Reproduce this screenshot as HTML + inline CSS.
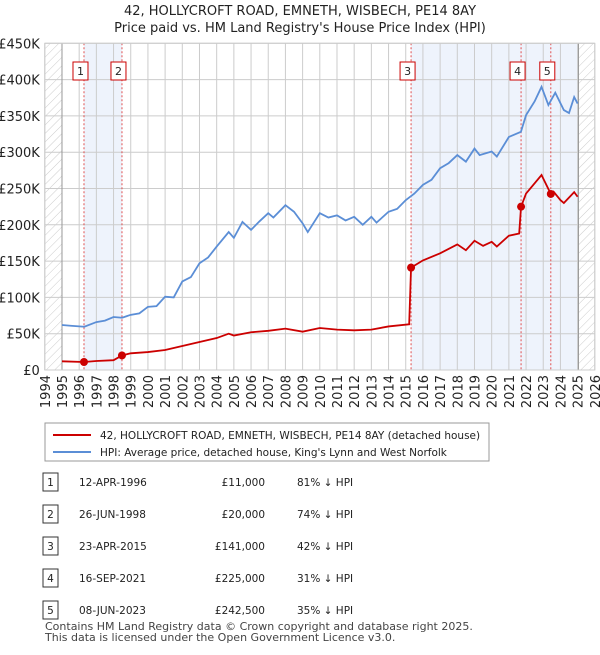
<!DOCTYPE html>
<html><head><meta charset="utf-8"><style>
body{margin:0;background:#fff;font-family:"Liberation Sans","DejaVu Sans",sans-serif;}
svg text{font-family:"DejaVu Sans","Liberation Sans",sans-serif;}
</style></head><body>
<svg id="c" width="600" height="650" xmlns="http://www.w3.org/2000/svg">
<defs><pattern id="hatch" width="6" height="6" patternUnits="userSpaceOnUse" patternTransform="rotate(45)"><line x1="0" y1="0" x2="0" y2="6" stroke="#ccc" stroke-width="1"/></pattern></defs>
<text x="300" y="15" text-anchor="middle" font-size="13" fill="#222">42, HOLLYCROFT ROAD, EMNETH, WISBECH, PE14 8AY</text>
<text x="300" y="32" text-anchor="middle" font-size="13" fill="#222">Price paid vs. HM Land Registry's House Price Index (HPI)</text>
<g id="plot"></g>
<rect x="45" y="423" width="444" height="38" fill="#fff" stroke="#999"/>
<line x1="53" y1="435" x2="91" y2="435" stroke="#cc0000" stroke-width="2"/>
<text x="100" y="439" font-size="10.5" fill="#222">42, HOLLYCROFT ROAD, EMNETH, WISBECH, PE14 8AY (detached house)</text>
<line x1="53" y1="452" x2="91" y2="452" stroke="#5b8ed6" stroke-width="2"/>
<text x="100" y="456" font-size="10.5" fill="#222">HPI: Average price, detached house, King's Lynn and West Norfolk</text>
<g id="table" font-size="10.5" fill="#222"></g>
<text x="45" y="630" font-size="11" fill="#444">Contains HM Land Registry data © Crown copyright and database right 2025.</text>
<text x="45" y="641" font-size="11" fill="#444">This data is licensed under the Open Government Licence v3.0.</text>
</svg>
<script>
const hpiYears=[1995,1995.5,1996.3,1997,1997.5,1998,1998.5,1999,1999.5,2000,2000.5,2001,2001.5,2002,2002.5,2003,2003.5,2004,2004.7,2005,2005.5,2006,2006.5,2007,2007.3,2008,2008.5,2009,2009.3,2010,2010.5,2011,2011.5,2012,2012.5,2013,2013.3,2014,2014.5,2015,2015.5,2016,2016.5,2017,2017.5,2018,2018.5,2019,2019.3,2020,2020.3,2021,2021.7,2022,2022.5,2022.9,2023.3,2023.7,2024.2,2024.5,2024.8,2025.0];
const hpiValues=[62000,61000,59600,66000,68000,73000,72000,76000,78000,87000,88000,101000,100000,122000,128000,147000,155000,170000,190000,182000,204000,193000,205000,216000,210000,227000,218000,202000,190000,216000,210000,213000,206000,211000,200000,211000,203000,218000,222000,234000,243000,255000,262000,278000,285000,296000,287000,305000,296000,301000,294000,321000,328000,351000,370000,390000,365000,382000,358000,354000,376000,367000];
const ppYears=[1995,1996.28,1997,1998,1998.49,1999,2000,2001,2002,2003,2004,2004.7,2005,2006,2007,2008,2009,2010,2011,2012,2013,2014,2015.2,2015.31,2016,2017,2018,2018.5,2019,2019.5,2020,2020.3,2021,2021.6,2021.71,2022,2022.9,2023.44,2023.6,2024,2024.2,2024.8,2025.0];
const ppValues=[12000,11000,12400,13500,20000,23000,24700,27500,33000,38600,44000,50000,47500,52000,54000,57000,52800,57800,55600,54700,55600,60000,63000,141000,151000,160700,173000,165000,178000,171000,176600,170000,185000,188000,225000,243000,268600,242500,245600,234000,230000,245000,238600];
const saleIds=["1","2","3","4","5"];
const saleYears=[1996.28,1998.49,2015.31,2021.71,2023.44];
const saleValues=[11000,20000,141000,225000,242500];
const saleDates=["12-APR-1996","26-JUN-1998","23-APR-2015","16-SEP-2021","08-JUN-2023"];
const saleLabels=["£11,000","£20,000","£141,000","£225,000","£242,500"];
const saleDiffs=["81% ↓ HPI","74% ↓ HPI","42% ↓ HPI","31% ↓ HPI","35% ↓ HPI"];
const yTicks=[0,50000,100000,150000,200000,250000,300000,350000,400000,450000];
const yTickLabels=["£0","£50K","£100K","£150K","£200K","£250K","£300K","£350K","£400K","£450K"];
const xTicks=[1994,1995,1996,1997,1998,1999,2000,2001,2002,2003,2004,2005,2006,2007,2008,2009,2010,2011,2012,2013,2014,2015,2016,2017,2018,2019,2020,2021,2022,2023,2024,2025,2026];

const NS="http://www.w3.org/2000/svg";
const X0=44.8,X1=594.8,Y0=370,Y1=43.3;
const xs=y=>X0+(y-1994)/32*(X1-X0);
const ys=v=>Y0-v/450000*(Y0-Y1);
const g=document.getElementById('plot');
function mk(t,a,p){const e=document.createElementNS(NS,t);for(const k in a)e.setAttribute(k,a[k]);(p||g).appendChild(e);return e;}
let e;
e=mk('rect',{x:X0,y:Y1,width:X1-X0,height:Y0-Y1,fill:'#fff'});


e=mk('rect',{x:X0,y:Y1,width:xs(1995)-X0,height:Y0-Y1,fill:'url(#hatch)'});


e=mk('rect',{x:xs(2025.05),y:Y1,width:X1-xs(2025.05),height:Y0-Y1,fill:'url(#hatch)'});


e=mk('rect',{x:xs(saleYears[0]),y:Y1,width:xs(saleYears[1])-xs(saleYears[0]),height:Y0-Y1,fill:'#eef3fc'});


e=mk('rect',{x:xs(saleYears[2]),y:Y1,width:xs(2025.05)-xs(saleYears[2]),height:Y0-Y1,fill:'#eef3fc'});


yTicks.forEach((v,i)=>{
 e=mk('line',{x1:X0,x2:X1,y1:ys(v),y2:ys(v),stroke:'#ccc','stroke-width':1});
 
 
 e=mk('text',{x:X0-5,y:ys(v)+5,'text-anchor':'end','font-size':13,fill:'#222'});
 e.textContent=yTickLabels[i];
 
 
});
xTicks.forEach(t=>{
 e=mk('line',{x1:xs(t),x2:xs(t),y1:Y1,y2:Y0,stroke:'#ccc','stroke-width':1});
 
 
 e=mk('text',{x:0,y:0,'text-anchor':'end','font-size':13,fill:'#222',transform:`translate(${xs(t)+5},375) rotate(-90)`});
 e.textContent=t;
 
 
});
e=mk('line',{x1:xs(1995),x2:xs(1995),y1:Y1,y2:Y0,stroke:'#999'});


e=mk('line',{x1:xs(2025.05),x2:xs(2025.05),y1:Y1,y2:Y0,stroke:'#999'});


saleYears.forEach((s,i)=>{
 e=mk('line',{x1:xs(s),x2:xs(s),y1:Y1,y2:Y0,stroke:'#e05050','stroke-dasharray':'2,2','stroke-width':1});
 
 
});
e=mk('polyline',{points:hpiYears.map((y,i)=>xs(y)+','+ys(hpiValues[i])).join(' '),fill:'none',stroke:'#5b8ed6','stroke-width':1.8});


e=mk('polyline',{points:ppYears.map((y,i)=>xs(y)+','+ys(ppValues[i])).join(' '),fill:'none',stroke:'#cc0000','stroke-width':1.8});


saleYears.forEach((s,i)=>{
 e=mk('circle',{cx:xs(s),cy:ys(saleValues[i]),r:4,fill:'#cc0000'});
 
 
 e=mk('rect',{x:xs(s)-11,y:62,width:15,height:18,fill:'#fff',stroke:'#cc0000'});
 
 
 e=mk('text',{x:xs(s)-3.5,y:75,'text-anchor':'middle','font-size':11,fill:'#222'});
 e.textContent=saleIds[i];
 
 
});
e=mk('rect',{x:X0,y:Y1,width:X1-X0,height:Y0-Y1,fill:'none',stroke:'#ccc'});


const tb=document.getElementById('table');
saleIds.forEach((id,i)=>{
 const y=483+i*32;
 e=mk('rect',{x:43,y:y-10,width:15,height:18,fill:'#fff',stroke:'#333'},tb);
 
 
 e=mk('text',{x:50.5,y:y+3,'text-anchor':'middle'},tb);e.textContent=id;
 
 
 e=mk('text',{x:79,y:y+3},tb);e.textContent=saleDates[i];
 
 
 e=mk('text',{x:265,y:y+3,'text-anchor':'end'},tb);e.textContent=saleLabels[i];
 
 
 e=mk('text',{x:297,y:y+3},tb);e.textContent=saleDiffs[i];
 
 
});
</script>
</body></html>
